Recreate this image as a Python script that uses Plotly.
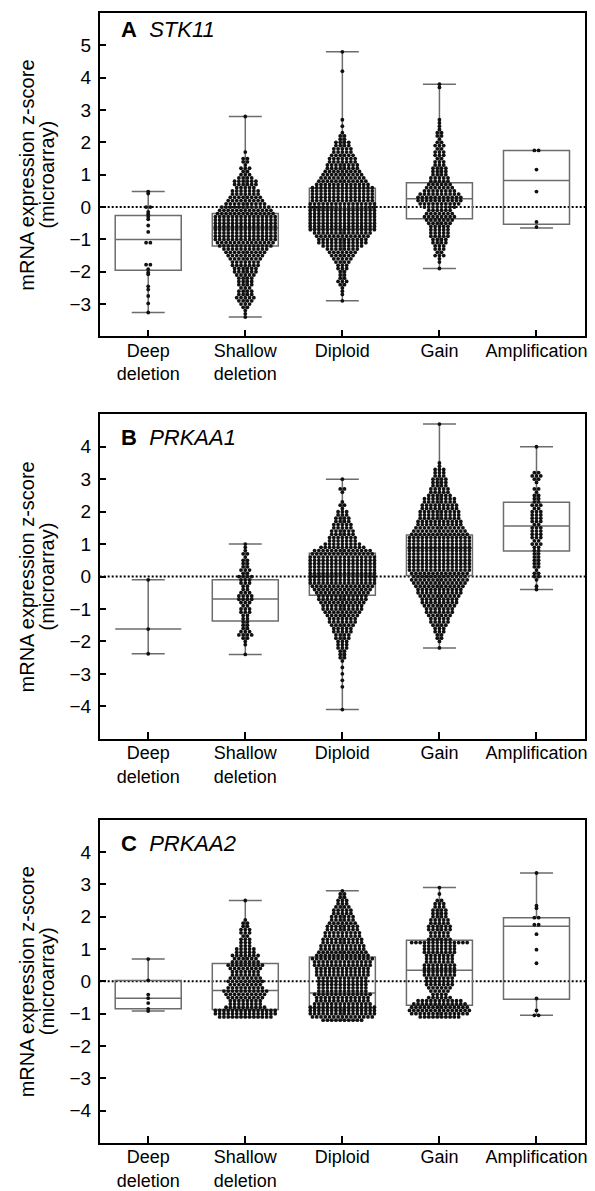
import plotly.graph_objects as go

# ---------------- data ----------------
CATEGORIES = ["Deep<br>deletion", "Shallow<br>deletion", "Diploid", "Gain", "Amplification"]
GENES = ["STK11", "PRKAA1", "PRKAA2"]
LETTERS = ["A", "B", "C"]
Y_TICKS_A = [-3, -2, -1, 0, 1, 2, 3, 4, 5]
Y_TICKS_BC = [-4, -3, -2, -1, 0, 1, 2, 3, 4]

# Large groups: value of the top 0.1-wide row and number of dots per row going down
A_SHALLOW_TOP = 2.8
A_SHALLOW_COUNTS = [1, 0, 0, 0, 0, 0, 0, 0, 0, 0, 0, 1, 0, 2, 2, 1, 3, 2, 3, 4, 6, 6, 5, 7, 7, 8, 9, 10, 12, 13,
                    14, 15, 15, 15, 15, 15, 15, 15, 15, 14, 13, 11, 10, 9, 8, 7, 7, 6, 6, 5, 4, 4, 4, 3, 4, 4, 5,
                    4, 3, 2, 1, 1, 1]
A_DIPLOID_TOP = 4.8
A_DIPLOID_COUNTS = [1, 0, 0, 0, 0, 0, 1, 0, 0, 0, 0, 0, 0, 0, 0, 0, 0, 0, 0, 0, 0, 1, 0, 1, 0, 1, 2, 2, 4, 4, 5,
                    5, 6, 7, 7, 8, 8, 9, 10, 11, 12, 13, 15, 15, 15, 15, 15, 16, 16, 16, 16, 16, 16, 16, 16, 16,
                    14, 13, 12, 12, 10, 8, 7, 6, 5, 4, 3, 3, 2, 2, 2, 3, 2, 1, 1, 1, 0, 1]
A_GAIN_TOP = 3.8
A_GAIN_COUNTS = [1, 1, 0, 0, 0, 0, 0, 0, 0, 0, 0, 1, 1, 1, 1, 2, 2, 1, 2, 3, 2, 3, 3, 2, 3, 3, 4, 4, 4, 5, 5, 6,
                 7, 8, 10, 11, 11, 10, 8, 6, 7, 8, 7, 6, 5, 5, 5, 5, 4, 4, 3, 3, 2, 3, 1, 1, 0, 1]

B_SHALLOW_TOP = 1.0
B_SHALLOW_COUNTS = [1, 1, 1, 2, 1, 2, 2, 2, 3, 2, 4, 3, 3, 2, 2, 3, 4, 4, 3, 2, 3, 3, 2, 2, 2, 2, 2, 3, 4, 2, 1,
                    1, 0, 0, 1]
B_DIPLOID_TOP = 3.0
B_DIPLOID_COUNTS = [1, 0, 0, 2, 1, 0, 0, 1, 2, 1, 3, 3, 4, 4, 5, 5, 6, 6, 7, 7, 9, 11, 14, 15, 16, 16, 16, 16, 16,
                    16, 16, 16, 16, 15, 14, 13, 12, 12, 11, 10, 10, 9, 8, 7, 7, 6, 5, 5, 4, 4, 3, 3, 3, 2, 2, 2,
                    1, 0, 1, 0, 1, 0, 1, 0, 1, 0, 0, 0, 0, 0, 0, 1]
B_GAIN_TOP = 4.7
B_GAIN_COUNTS = [1, 0, 0, 0, 0, 0, 0, 0, 0, 0, 0, 0, 1, 1, 3, 3, 3, 4, 4, 4, 5, 5, 6, 8, 8, 9, 9, 10, 10, 10, 11,
                 11, 12, 13, 14, 15, 15, 15, 15, 15, 15, 15, 15, 15, 15, 15, 14, 13, 14, 13, 12, 11, 11, 10, 9,
                 9, 8, 7, 7, 6, 5, 5, 4, 3, 3, 2, 2, 1, 0, 1]
B_AMP_TOP = 4.0
B_AMP_COUNTS = [1, 0, 0, 0, 0, 0, 0, 0, 2, 3, 2, 1, 0, 2, 1, 2, 2, 2, 3, 2, 3, 3, 3, 3, 2, 3, 3, 3, 3, 2, 3, 2,
                2, 2, 2, 2, 2, 2, 1, 2, 2, 1, 0, 1, 1]

C_SHALLOW_TOP = 2.5
C_SHALLOW_COUNTS = [1, 0, 0, 0, 0, 0, 1, 2, 2, 3, 3, 2, 3, 3, 3, 5, 5, 7, 6, 7, 9, 8, 7, 7, 8, 9, 8, 9, 11, 10, 9,
                    8, 8, 10, 15, 15, 13]
C_DIPLOID_TOP = 2.8
C_DIPLOID_COUNTS = [1, 2, 2, 3, 3, 4, 5, 5, 6, 6, 7, 8, 8, 9, 9, 10, 10, 11, 11, 12, 13, 15, 14, 14, 13, 13, 13,
                    12, 12, 12, 12, 12, 14, 13, 13, 14, 16, 16, 16, 15, 10]
C_GAIN_TOP = 2.9
C_GAIN_COUNTS = [1, 0, 1, 0, 2, 3, 3, 4, 4, 4, 5, 5, 6, 6, 5, 5, 6, 14, 8, 8, 8, 7, 7, 7, 8, 8, 8, 8, 7, 7, 7, 6,
                 5, 4, 6, 11, 13, 14, 15, 14, 10]

# Small groups: individual values
A_DEEP = [0.48, 0.42, 0.0, 0.0, -0.15, -0.22, -0.3, -0.38, -0.57, -0.77, -1.1, -1.1, -1.78, -1.78, -1.92,
          -2.02, -2.08, -2.45, -2.55, -2.75, -2.98, -3.26]
A_AMP = [1.75, 1.75, 1.16, 0.48, -0.46, -0.62]
B_DEEP = [-0.1, -1.62, -2.38]
C_DEEP = [0.69, 0.03, -0.41, -0.52, -0.67, -0.85, -0.92]
C_AMP = [3.35, 2.34, 2.26, 1.97, 1.97, 1.75, 1.75, 1.46, 0.98, 0.56, -0.53, -0.9, -1.05, -1.05]

# Box statistics per panel (Deep, Shallow, Diploid, Gain, Amplification)
A_Q1 = [-1.95, -1.2, -0.68, -0.36, -0.53]
A_MED = [-1.0, -0.65, -0.05, 0.26, 0.82]
A_Q3 = [-0.26, -0.2, 0.58, 0.75, 1.75]
A_LO = [-3.26, -3.4, -2.9, -1.9, -0.65]
A_HI = [0.48, 2.8, 4.8, 3.8, 1.75]

B_Q1 = [-1.62, -1.37, -0.58, 0.03, 0.79]
B_MED = [-1.62, -0.69, 0.05, 0.87, 1.56]
B_Q3 = [-1.62, -0.1, 0.72, 1.28, 2.29]
B_LO = [-2.38, -2.4, -4.1, -2.2, -0.4]
B_HI = [-0.1, 1.0, 3.0, 4.7, 4.0]

C_Q1 = [-0.85, -0.87, -0.82, -0.74, -0.55]
C_MED = [-0.52, -0.28, -0.36, 0.34, 1.7]
C_Q3 = [0.03, 0.55, 0.75, 1.27, 1.97]
C_LO = [-0.92, -1.1, -1.2, -1.1, -1.05]
C_HI = [0.69, 2.5, 2.8, 2.9, 3.35]


def expand(top, counts):
    vals = []
    for i, c in enumerate(counts):
        vals += [round(top - 0.1 * i, 2)] * c
    return vals


PANELS = [
    dict(groups=[A_DEEP, expand(A_SHALLOW_TOP, A_SHALLOW_COUNTS), expand(A_DIPLOID_TOP, A_DIPLOID_COUNTS),
                 expand(A_GAIN_TOP, A_GAIN_COUNTS), A_AMP],
         q1=A_Q1, med=A_MED, q3=A_Q3, lo=A_LO, hi=A_HI, yrange=[-4, 6], yticks=Y_TICKS_A),
    dict(groups=[B_DEEP, expand(B_SHALLOW_TOP, B_SHALLOW_COUNTS), expand(B_DIPLOID_TOP, B_DIPLOID_COUNTS),
                 expand(B_GAIN_TOP, B_GAIN_COUNTS), expand(B_AMP_TOP, B_AMP_COUNTS)],
         q1=B_Q1, med=B_MED, q3=B_Q3, lo=B_LO, hi=B_HI, yrange=[-5, 5], yticks=Y_TICKS_BC),
    dict(groups=[C_DEEP, expand(C_SHALLOW_TOP, C_SHALLOW_COUNTS), expand(C_DIPLOID_TOP, C_DIPLOID_COUNTS),
                 expand(C_GAIN_TOP, C_GAIN_COUNTS), C_AMP],
         q1=C_Q1, med=C_MED, q3=C_Q3, lo=C_LO, hi=C_HI, yrange=[-5, 5], yticks=Y_TICKS_BC),
]

# ---------------- layout geometry (page pixels) ----------------
PAGE_W, PAGE_H = 595, 1191
OFF = 8                       # default page margin around the plot div
W, H = PAGE_W - OFF, PAGE_H - OFF
X_LEFT, X_RIGHT = 100, 587
PANEL_PX = [(13, 337), (415, 740), (821, 1145)]   # top, bottom in page pixels
TITLE_Y = [30, 438, 845]
PITCH = 0.044   # horizontal spacing between dots in one row (category units)
FONT = "Liberation Sans, Arial, Helvetica, sans-serif"
BOX_COLOR = "#6c6c6c"


def px_x(px):
    return (px - OFF) / W


def px_y(py):
    return 1 - (py - OFF) / H


def swarm(values, center):
    rows = {}
    for v in values:
        rows[v] = rows.get(v, 0) + 1
    xs, ys = [], []
    for v, n in rows.items():
        for i in range(n):
            xs.append(center + (i - (n - 1) / 2) * PITCH)
            ys.append(v)
    return xs, ys


fig = go.Figure()
annotations = []
shapes = []
layout_axes = {}

for p, panel in enumerate(PANELS):
    sfx = "" if p == 0 else str(p + 1)
    xref, yref = "x" + sfx, "y" + sfx
    positions = list(range(len(CATEGORIES)))

    fig.add_trace(go.Box(
        x=positions, q1=panel["q1"], median=panel["med"], q3=panel["q3"],
        lowerfence=panel["lo"], upperfence=panel["hi"],
        width=0.68, whiskerwidth=0.5, boxpoints=False,
        line=dict(color=BOX_COLOR, width=1.5), fillcolor="rgba(0,0,0,0)",
        xaxis=xref, yaxis=yref, showlegend=False, hoverinfo="skip"))

    xs_all, ys_all = [], []
    for gi, vals in enumerate(panel["groups"]):
        xs, ys = swarm(vals, positions[gi])
        xs_all += xs
        ys_all += ys
    fig.add_trace(go.Scatter(
        x=xs_all, y=ys_all, mode="markers",
        marker=dict(size=3.8, color="#111111", line=dict(width=0)),
        xaxis=xref, yaxis=yref, showlegend=False, hoverinfo="skip"))

    top_px, bot_px = PANEL_PX[p]
    ydom = [px_y(bot_px), px_y(top_px)]
    xdom = [px_x(X_LEFT), px_x(X_RIGHT)]
    axis_common = dict(showline=True, linecolor="black", linewidth=1.5, mirror=True,
                       ticks="inside", ticklen=7, tickwidth=1.5, tickcolor="black",
                       showgrid=False, zeroline=False)
    layout_axes["xaxis" + sfx] = dict(domain=xdom, range=[-0.5, 4.5], tickvals=positions,
                                      ticktext=CATEGORIES, anchor=yref, ticklabelstandoff=-3,
                                      tickfont=dict(family=FONT, size=18, color="black"), **axis_common)
    layout_axes["yaxis" + sfx] = dict(domain=ydom, range=panel["yrange"], tickvals=panel["yticks"],
                                      anchor=xref, ticklabelstandoff=3,
                                      tickfont=dict(family=FONT, size=19, color="black"), **axis_common)

    shapes.append(dict(type="line", xref=xref + " domain", yref=yref, x0=0, x1=1, y0=0, y1=0,
                       line=dict(color="black", width=2, dash="2px,2px"), layer="below"))

    annotations.append(dict(
        text="<b>" + LETTERS[p] + "</b>\u00a0\u00a0<i>" + GENES[p] + "</i>",
        xref="paper", yref="paper", x=px_x(119), y=px_y(TITLE_Y[p]),
        xanchor="left", yanchor="middle", showarrow=False,
        font=dict(family=FONT, size=22, color="black")))
    ymid = px_y((top_px + bot_px) / 2)
    annotations.append(dict(
        text="mRNA expression z-score", textangle=-90, xref="paper", yref="paper",
        x=px_x(27), y=ymid, xanchor="center", yanchor="middle", showarrow=False,
        font=dict(family=FONT, size=20, color="black")))
    annotations.append(dict(
        text="(microarray)", textangle=-90, xref="paper", yref="paper",
        x=px_x(47), y=ymid, xanchor="center", yanchor="middle", showarrow=False,
        font=dict(family=FONT, size=20, color="black")))

fig.update_layout(
    width=W, height=H, margin=dict(l=0, r=0, t=0, b=0),
    paper_bgcolor="white", plot_bgcolor="white",
    font=dict(family=FONT, color="black"),
    annotations=annotations, shapes=shapes, showlegend=False,
    **layout_axes)

fig.write_html("out.html")
